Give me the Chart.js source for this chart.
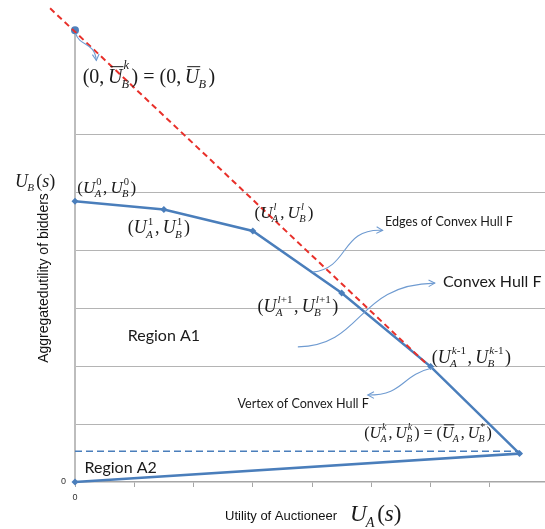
<!DOCTYPE html>
<html lang="en">
<head>
    <meta charset="UTF-8">
    <title>Convex Hull F</title>
    <script src="https://cdn.jsdelivr.net/npm/chart.js"></script>
    <style>
        body {
            margin: 0;
            padding: 0;
            background-color: white;
        }
        canvas {
            display: block;
        }
    </style>
</head>
<body>
    <canvas id="hullChart" width="545" height="529"></canvas>

    <script>
        // Vertices of the convex hull F (auctioneer utility, bidders utility)
        const hullA = [0, 1.5, 3, 4.5, 6, 7.5, 0];
        const hullB = [4.84, 4.70, 4.33, 3.26, 1.99, 0.49, 0];

        // Point (0, U_B bar) on the bidders axis
        const topA = [0];
        const topB = [7.79];

        // Red dashed tangent line
        const tangentA = [-0.42, 5.95];
        const tangentB = [8.17, 2.02];

        // Blue dashed level of U_B^k
        const levelA = [0, 7.5];
        const levelB = [0.53, 0.53];

        // Tick labels: only zero is printed on both axes
        const xTickLabels = ['0'];
        const yTickLabels = ['0'];

        // Math labels (data position of left/baseline)
        const mathLabels = [
            { text: '(0,~U_{B}^{k}) = (0,~U_{B})', a: 0.13, b: 6.88, size: 20 },
            { text: '(U_{A}^{0},U_{B}^{0})', a: 0.04, b: 4.98, size: 17 },
            { text: '(U_{A}^{1},U_{B}^{1})', a: 0.89, b: 4.29, size: 18 },
            { text: '(U_{A}^{l},U_{B}^{l})', a: 3.03, b: 4.55, size: 17 },
            { text: '(U_{A}^{l+1},U_{B}^{l+1})', a: 3.08, b: 2.93, size: 18 },
            { text: '(U_{A}^{k-1},U_{B}^{k-1})', a: 6.02, b: 2.05, size: 18 },
            { text: '(U_{A}^{k},U_{B}^{k}) = (~U_{A},U_{B}^{*})', a: 4.88, b: 0.76, size: 16 }
        ];

        // Plain labels
        const textLabels = [
            { text: 'Edges of Convex Hull F', a: 5.23, b: 4.41, size: 12.6 },
            { text: 'Convex Hull F', a: 6.21, b: 3.36, size: 16 },
            { text: 'Region A1', a: 0.89, b: 2.43, size: 16 },
            { text: 'Vertex of Convex Hull F', a: 2.74, b: 1.28, size: 12.6 },
            { text: 'Region A2', a: 0.16, b: 0.16, size: 16 }
        ];

        // Curved callout arrows (bezier control points in data units)
        const arrows = [
            [[0.01, 7.74], [0.08, 7.50], [0.33, 7.60], [0.36, 7.27]],
            [[4.01, 3.62], [4.64, 3.69], [4.47, 4.38], [5.19, 4.34]],
            [[3.76, 2.33], [4.89, 2.36], [4.72, 3.40], [6.07, 3.43]],
            [[6.04, 1.97], [5.48, 1.84], [5.57, 1.50], [4.94, 1.50]]
        ];

        const BLUE = '#4a7ebb';
        const SERIF = '"Liberation Serif", "Times New Roman", serif';
        const SANS = '"Liberation Sans", Arial, sans-serif';
        const CALLOUT = 'Lato, "Liberation Sans", sans-serif';

        const toPoints = (xs, ys) => xs.map((v, i) => ({ x: v, y: ys[i] }));

        // draw one run of characters: letters italic, the rest upright
        function drawRun(ctx, str, x, y, size) {
            let cx = x;
            for (const ch of str) {
                const italic = /[A-Za-z]/.test(ch);
                ctx.font = (italic ? 'italic ' : '') + size + 'px ' + SERIF;
                ctx.fillText(ch, cx, y);
                cx += ctx.measureText(ch).width;
            }
            return cx - x;
        }

        // tiny TeX-ish renderer: _{sub} ^{sup} and ~X for overline
        function drawMath(ctx, str, x, y, size) {
            let cx = x;
            let i = 0;
            let lastBar = false;
            while (i < str.length) {
                let c = str[i];
                if (c === '_' || c === '^') {
                    let sub = '', sup = '';
                    while (i < str.length && (str[i] === '_' || str[i] === '^')) {
                        const end = str.indexOf('}', i);
                        const content = str.slice(i + 2, end);
                        if (str[i] === '_') sub = content; else sup = content;
                        i = end + 1;
                    }
                    const ss = size * 0.62;
                    let w = 0;
                    const supY = y - size * (lastBar ? 0.72 : 0.48);
                    if (sup) w = Math.max(w, drawRun(ctx, sup, cx + size * 0.06, supY, ss) + size * 0.06);
                    if (sub) w = Math.max(w, drawRun(ctx, sub, cx - size * 0.04, y + size * 0.24, ss));
                    cx += w + size * 0.08;
                    lastBar = false;
                    continue;
                }
                let bar = false;
                if (c === '~') { bar = true; i++; c = str[i]; }
                const w = drawRun(ctx, c, cx, y, size);
                if (bar) {
                    ctx.beginPath();
                    ctx.lineWidth = 1;
                    ctx.moveTo(cx + size * 0.12, y - size * 0.82);
                    ctx.lineTo(cx + w + size * 0.05, y - size * 0.82);
                    ctx.stroke();
                }
                lastBar = bar;
                cx += w;
                if (c === ',') cx += size * 0.18;
                i++;
            }
            return cx - x;
        }

        function drawArrow(ctx, pts) {
            ctx.save();
            ctx.strokeStyle = '#6f9bd1';
            ctx.lineWidth = 1.1;
            ctx.beginPath();
            ctx.moveTo(pts[0][0], pts[0][1]);
            ctx.bezierCurveTo(pts[1][0], pts[1][1], pts[2][0], pts[2][1], pts[3][0], pts[3][1]);
            ctx.stroke();
            const ang = Math.atan2(pts[3][1] - pts[2][1], pts[3][0] - pts[2][0]);
            const len = 7;
            ctx.beginPath();
            ctx.moveTo(pts[3][0] - len * Math.cos(ang - 0.5), pts[3][1] - len * Math.sin(ang - 0.5));
            ctx.lineTo(pts[3][0], pts[3][1]);
            ctx.lineTo(pts[3][0] - len * Math.cos(ang + 0.5), pts[3][1] - len * Math.sin(ang + 0.5));
            ctx.stroke();
            ctx.restore();
        }

        const annotations = {
            id: 'annotations',
            afterDatasetsDraw(chart) {
                const ctx = chart.ctx;
                const sx = chart.scales.x;
                const sy = chart.scales.y;
                const px = a => sx.getPixelForValue(a);
                const py = b => sy.getPixelForValue(b);

                ctx.save();
                ctx.textBaseline = 'alphabetic';
                ctx.textAlign = 'left';

                arrows.forEach(ar => drawArrow(ctx, ar.map(p => [px(p[0]), py(p[1])])));

                ctx.fillStyle = '#1a1a1a';
                ctx.strokeStyle = '#1a1a1a';
                mathLabels.forEach(l => drawMath(ctx, l.text, px(l.a), py(l.b), l.size));

                textLabels.forEach(l => {
                    ctx.font = l.size + 'px ' + CALLOUT;
                    ctx.fillText(l.text, px(l.a), py(l.b));
                });

                // axis titles
                drawMath(ctx, 'U_{B}(s)', 15, 187, 18);

                ctx.fillStyle = '#111';
                ctx.font = '13px ' + SANS;
                ctx.fillText('Utility of Auctioneer', 225, 520);
                ctx.fillStyle = '#1a1a1a';
                drawMath(ctx, 'U_{A}(s)', 350, 521, 23);

                ctx.save();
                ctx.translate(48, 278);
                ctx.rotate(-Math.PI / 2);
                ctx.textAlign = 'center';
                ctx.fillStyle = '#111';
                ctx.font = '14px ' + SANS;
                ctx.fillText('Aggregatedutility of bidders', 0, 0);
                ctx.restore();

                ctx.restore();
            }
        };

        const ctx = document.getElementById('hullChart').getContext('2d');

        const chart = new Chart(ctx, {
            type: 'scatter',
            data: {
                datasets: [
                    {
                        label: 'Tangent',
                        data: toPoints(tangentA, tangentB),
                        showLine: true,
                        borderColor: '#e8302a',
                        borderWidth: 2,
                        borderDash: [6, 4],
                        pointRadius: 0,
                        clip: false
                    },
                    {
                        label: 'Level',
                        data: toPoints(levelA, levelB),
                        showLine: true,
                        borderColor: BLUE,
                        borderWidth: 1.6,
                        borderDash: [7, 4],
                        pointRadius: 0,
                        clip: false
                    },
                    {
                        label: 'Convex Hull F',
                        data: toPoints(hullA, hullB),
                        showLine: true,
                        borderColor: BLUE,
                        borderWidth: 2.5,
                        backgroundColor: BLUE,
                        pointStyle: 'rectRot',
                        pointRadius: 3.5,
                        pointBorderWidth: 0,
                        clip: false
                    },
                    {
                        label: 'Top',
                        data: toPoints(topA, topB),
                        backgroundColor: '#4f81bd',
                        pointRadius: 4,
                        pointBorderWidth: 0,
                        clip: false
                    }
                ]
            },
            options: {
                responsive: false,
                animation: false,
                devicePixelRatio: 1,
                layout: { autoPadding: false, padding: { top: 28, right: 0, left: 0, bottom: 0 } },
                plugins: {
                    legend: { display: false },
                    tooltip: { enabled: false }
                },
                scales: {
                    x: {
                        type: 'linear',
                        min: 0,
                        max: 7.93,
                        // keep the plot running to the right edge of the canvas
                        afterFit: s => { s.height = 47; s.paddingRight = 0; s.paddingLeft = 0; },
                        ticks: {
                            stepSize: 1,
                            padding: 5,
                            color: '#333',
                            font: { size: 9, family: SANS },
                            maxRotation: 0,
                            autoSkip: false,
                            callback: (v, i) => (i < xTickLabels.length ? xTickLabels[i] : '')
                        },
                        grid: {
                            drawOnChartArea: false,
                            drawTicks: true,
                            tickLength: 5,
                            color: c => (c.tick && Number.isInteger(c.tick.value) ? '#a6a6a6' : 'rgba(0,0,0,0)')
                        },
                        border: { color: '#a6a6a6', width: 1.5 }
                    },
                    y: {
                        type: 'linear',
                        min: 0,
                        max: 7.83,
                        afterFit: s => { s.width = 75; },
                        ticks: {
                            stepSize: 1,
                            padding: 9,
                            color: '#333',
                            font: { size: 9, family: SANS },
                            callback: (v, i) => (i < yTickLabels.length ? yTickLabels[i] : '')
                        },
                        grid: {
                            drawTicks: false,
                            color: c => (c.tick && c.tick.value >= 1 && c.tick.value <= 6 ? '#b4b4b4' : 'rgba(0,0,0,0)'),
                            lineWidth: 1
                        },
                        border: { color: '#bdbdbd', width: 2 }
                    }
                }
            },
            plugins: [annotations]
        });
    </script>
</body>
</html>
